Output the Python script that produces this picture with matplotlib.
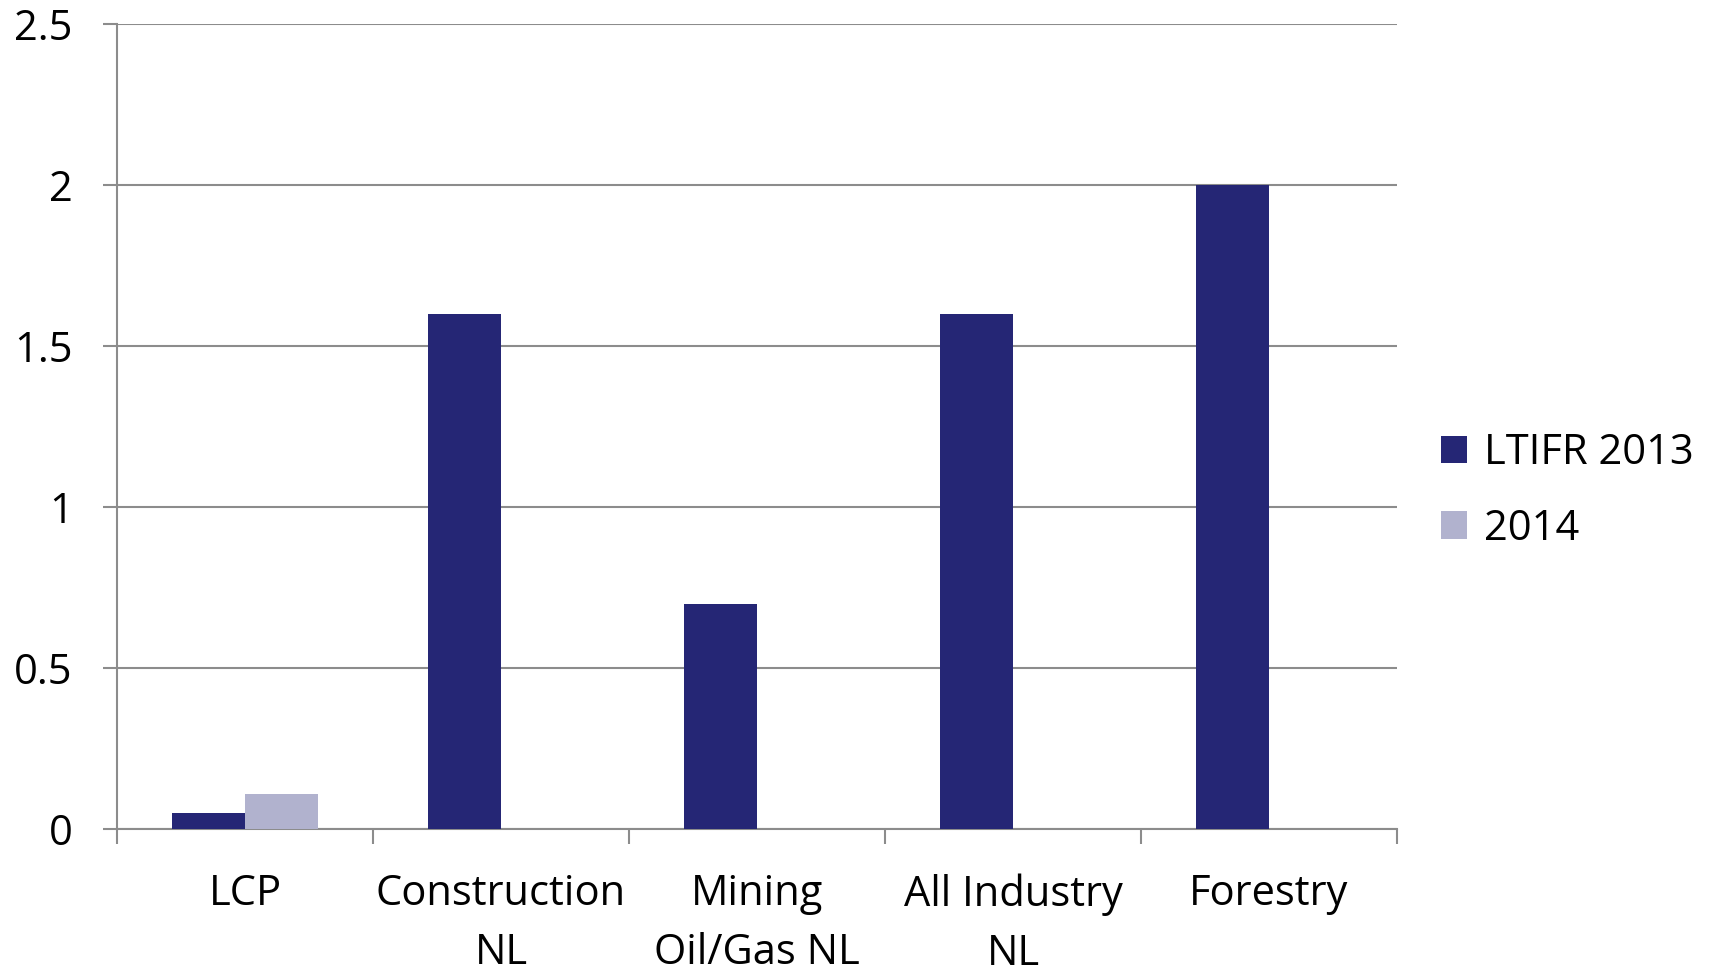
import matplotlib.pyplot as plt
import numpy as np

plt.rcParams['font.family'] = ['Open Sans', 'DejaVu Sans']

categories = ['LCP', 'Construction\nNL', 'Mining\nOil/Gas NL', 'All Industry\nNL', 'Forestry']
ltifr_2013 = [0.05, 1.6, 0.7, 1.6, 2.0]
ltifr_2014 = [0.11, 0, 0, 0, 0]
series_names = ['LTIFR 2013', '2014']
yticks = [0, 0.5, 1, 1.5, 2, 2.5]

dark = '#252675'
light = '#b1b2ce'
grey = '#8c8c8c'

fig = plt.figure(figsize=(17.09, 9.73), dpi=100)
ax = fig.add_axes([0.0685, 0.148, 0.7489, 0.8273])

x = np.arange(len(categories))
width = 0.284
ax.bar(x - width / 2, ltifr_2013, width, color=dark, label=series_names[0], zorder=3)
ax.bar(x + width / 2, ltifr_2014, width, color=light, label=series_names[1], zorder=3)

ax.set_xlim(-0.5, len(categories) - 0.5)
ax.set_ylim(0, 2.5)
ax.set_yticks(yticks)
ax.set_yticklabels(['0', '0.5', '1', '1.5', '2', '2.5'])
ax.yaxis.grid(True, color=grey, linewidth=1.5, zorder=0)

ax.set_xticks(x)
ax.set_xticklabels(categories, linespacing=1.52)
ax.set_xticks(np.arange(-0.5, len(categories)), minor=True)
ax.tick_params(axis='x', which='major', length=0, pad=32, labelsize=30)
ax.tick_params(axis='x', which='minor', length=11, width=1.5, color=grey, direction='out')
ax.tick_params(axis='y', length=10, width=1.5, color=grey, pad=22, labelsize=30)

for s in ['top', 'right']:
    ax.spines[s].set_visible(False)
for s in ['left', 'bottom']:
    ax.spines[s].set_color(grey)
    ax.spines[s].set_linewidth(1.5)

ax.legend(loc='center left', bbox_to_anchor=(1.0, 0.42), frameon=False, fontsize=30,
          handlelength=0.63, handleheight=0.63, handletextpad=0.4, labelspacing=0.8,
          borderaxespad=0.65)

fig.savefig('out.png', dpi=100)
plt.close()
